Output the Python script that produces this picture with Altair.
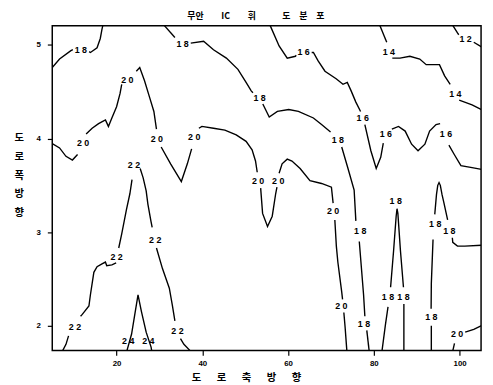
import altair as alt
import pandas as pd

# ---- contour polylines (data units), split where labels interrupt them ----
c18_west = [
    [(5.0, 4.76), (6.7, 4.85), (9.35, 4.94), (9.8, 4.95)],
    [(13.6, 4.93), (13.9, 4.92), (15.45, 4.97), (16.2, 5.07), (16.6, 5.17), (16.8, 5.21)],
]
c18_mid = [
    [(31.1, 5.21), (33.6, 5.08)],
    [(37.3, 5.02), (40.3, 5.04), (42.6, 4.95), (45.6, 4.86), (48.3, 4.74), (50.2, 4.6), (51.4, 4.51), (51.8, 4.49)],
    [(54.1, 4.37), (55.6, 4.23), (57.5, 4.29), (60.15, 4.31), (62.4, 4.29), (65.9, 4.22), (67.8, 4.15), (69.9, 4.07)],
    [(72.5, 3.91), (73.9, 3.69), (75.4, 3.45), (75.8, 3.12)],
    [(76.6, 2.9), (77.6, 2.33), (77.9, 2.1)],
    [(78.35, 1.95), (78.9, 1.73)],
]
c16 = [
    [(55.8, 5.21), (57.9, 4.99), (59.8, 4.86), (61.7, 4.88), (61.9, 4.89)],
    [(65.5, 4.92), (65.9, 4.92), (67.0, 4.83), (68.6, 4.72), (71.2, 4.64), (72.8, 4.58), (73.8, 4.6),
     (74.7, 4.51), (75.8, 4.39), (76.9, 4.29)],
    [(77.9, 4.15), (79.3, 3.87), (80.55, 3.68), (81.6, 3.8), (82.2, 3.95)],
    [(84.2, 4.1), (85.75, 4.13), (87.3, 4.08), (88.8, 3.94), (90.3, 3.87), (91.9, 3.94), (93.0, 4.08),
     (94.5, 4.15), (95.45, 4.16)],
    [(97.5, 3.93), (98.75, 3.83), (100.3, 3.71), (102.9, 3.69), (105.1, 3.67)],
]
c14 = [
    [(81.4, 5.21), (83.0, 5.03)],
    [(84.3, 4.86), (86.1, 4.86), (88.4, 4.88), (90.7, 4.85), (92.2, 4.79), (93.8, 4.79), (95.3, 4.79),
     (96.5, 4.67), (97.8, 4.58)],
    [(99.9, 4.41), (102.9, 4.36), (105.1, 4.31)],
]
c12 = [
    [(98.4, 5.21), (99.5, 5.13), (99.8, 5.11)],
    [(103.3, 5.03), (105.1, 4.98)],
]
c20_main = [
    [(4.9, 3.95), (6.7, 3.9), (8.2, 3.81), (9.7, 3.77), (10.9, 3.83)],
    [(12.9, 4.05), (14.3, 4.11), (15.8, 4.16), (17.4, 4.2), (18.1, 4.13), (18.9, 4.22), (20.0, 4.34),
     (20.8, 4.48), (21.2, 4.58)],
    [(24.6, 4.72), (25.4, 4.76), (26.5, 4.62), (27.7, 4.44), (28.7, 4.29), (29.3, 4.1)],
    [(30.4, 3.91), (32.6, 3.73), (35.1, 3.54), (36.5, 3.73), (37.5, 3.89)],
    [(39.2, 4.11), (39.9, 4.13), (42.6, 4.11), (45.25, 4.09), (47.9, 4.04), (50.2, 3.97), (51.6, 3.88),
     (52.4, 3.76), (52.8, 3.64)],
    [(53.6, 3.47), (54.05, 3.2), (55.2, 3.06), (56.3, 3.17), (57.1, 3.41), (57.4, 3.48)],
    [(57.9, 3.63), (58.6, 3.73), (59.8, 3.78), (60.9, 3.76), (62.8, 3.68), (65.1, 3.55), (67.8, 3.52),
     (70.1, 3.48), (70.5, 3.31)],
    [(70.9, 3.13), (71.25, 2.85), (71.6, 2.68), (72.5, 2.36), (72.7, 2.28)],
    [(73.0, 2.14), (73.3, 1.98), (73.7, 1.73)],
]
c22 = [
    [(7.4, 1.73), (8.2, 1.8), (8.8, 1.89)],
    [(11.6, 2.1), (12.0, 2.12), (13.55, 2.21), (13.9, 2.33), (14.7, 2.57), (15.45, 2.63), (16.6, 2.66),
     (17.4, 2.68), (17.7, 2.64), (18.9, 2.65), (19.9, 2.67)],
    [(20.5, 2.83), (21.2, 2.98), (22.3, 3.24), (23.1, 3.41), (23.6, 3.56)],
    [(25.5, 3.68), (26.2, 3.58), (26.9, 3.44), (27.3, 3.3), (28.0, 3.12), (28.3, 3.05)],
    [(29.3, 2.83), (30.7, 2.61), (32.3, 2.4), (33.0, 2.22), (33.6, 2.05)],
    [(34.9, 1.86), (35.7, 1.8), (37.2, 1.73)],
]
c24 = [
    [(22.4, 1.73), (23.5, 1.91), (24.25, 2.12), (25.0, 2.33), (25.8, 2.15), (26.9, 1.93), (28.05, 1.77),
     (28.2, 1.73)],
]
c18_peak = [
    [(81.9, 1.73), (82.7, 2.01), (83.3, 2.2)],
    [(83.9, 2.41), (84.6, 2.8), (85.2, 3.17), (85.4, 3.25), (85.6, 3.2), (86.2, 2.8), (86.9, 2.41)],
    [(87.0, 2.23), (87.0, 1.73)],
]
c18_east = [
    [(93.4, 1.73), (93.4, 2.0)],
    [(93.35, 2.18), (93.4, 2.45), (93.8, 2.92)],
    [(94.2, 3.19), (94.6, 3.4), (94.9, 3.5), (95.2, 3.53), (95.5, 3.5), (95.9, 3.4), (96.3, 3.32),
     (97.2, 3.13)],
    [(98.3, 2.94), (98.4, 2.89), (99.5, 2.85), (101.2, 2.85), (105.1, 2.86)],
]
c20_se = [
    [(98.4, 1.73), (98.8, 1.81)],
    [(101.3, 1.93), (103.3, 1.96), (105.1, 2.0)],
]

# ---- contour labels ----
label_text = ["1 8", "1 8", "1 8", "1 8", "1 8", "1 8",
              "1 6", "1 6", "1 6", "1 6",
              "1 4", "1 4", "1 2",
              "2 0", "2 0", "2 0", "2 0", "2 0", "2 0", "2 0", "2 0", "2 0",
              "2 2", "2 2", "2 2", "2 2", "2 2",
              "2 4", "2 4",
              "1 8", "1 8", "1 8", "1 8", "1 8", "1 8"]
label_x = [11.65, 35.4, 53.35, 71.6, 76.8, 77.7,
           63.6, 77.4, 82.8, 96.8,
           83.5, 99.0, 101.4,
           12.2, 22.5, 29.4, 38.1, 99.4, 53.0, 57.7, 70.5, 72.4,
           24.05, 20.0, 29.0, 10.3, 34.2,
           22.7, 27.4,
           85.1, 83.3, 86.9, 94.3, 93.4, 97.6]
label_y = [4.95, 5.01, 4.43, 3.98, 3.01, 2.02,
           4.93, 4.22, 4.05, 4.05,
           4.93, 4.48, 5.06,
           3.95, 4.63, 3.99, 4.02, 1.91, 3.55, 3.55, 3.22, 2.21,
           3.72, 2.73, 2.92, 1.99, 1.94,
           1.84, 1.84,
           3.33, 2.31, 2.31, 3.09, 2.09, 3.01]

x_ticks = [20, 40, 60, 80, 100]
y_ticks = [2, 3, 4, 5]

contours = {
    "c18_west": c18_west, "c18_mid": c18_mid, "c16": c16, "c14": c14, "c12": c12,
    "c20_main": c20_main, "c22": c22, "c24": c24, "c18_peak": c18_peak,
    "c18_east": c18_east, "c20_se": c20_se,
}
rows = []
for name, segs in contours.items():
    for si, seg in enumerate(segs):
        for pi, (x, y) in enumerate(seg):
            rows.append({"seg": f"{name}_{si}", "i": pi, "x": x, "y": y})
lines_df = pd.DataFrame(rows)
labels_df = pd.DataFrame({"t": label_text, "x": label_x, "y": label_y})

xs = alt.Scale(domain=[5, 105], nice=False, zero=False)
ys = alt.Scale(domain=[1.735, 5.205], nice=False, zero=False)

lines = alt.Chart(lines_df).mark_line(color="black", strokeWidth=1.4, clip=True).encode(
    x=alt.X("x:Q", scale=xs, axis=alt.Axis(
        values=x_ticks, format="d", title="도\u2003\u2002로\u2003\u2002축\u2003\u2002방\u2003\u2002향",
        titleX=197, titleY=31, titleBaseline="alphabetic", titleAlign="center",
        labelPadding=4, titleFontSize=10.5)),
    y=alt.Y("y:Q", scale=ys, axis=alt.Axis(
        values=y_ticks, format="d", title=["도", "로", "폭", "방", "향"],
        titleAngle=0, titleX=-34, titleY=114, titleAlign="center", titleBaseline="middle",
        titleLineHeight=19, titleFontSize=10.5, labelPadding=7)),
    detail="seg:N",
    order="i:Q",
)

texts = alt.Chart(labels_df).mark_text(
    font="Liberation Sans", fontWeight="bold", fontSize=9, color="black"
).encode(
    x=alt.X("x:Q", scale=xs),
    y=alt.Y("y:Q", scale=ys),
    text="t:N",
)

chart = alt.layer(lines, texts).properties(
    width=436,
    height=330,
    title=alt.TitleParams(
        text="무안\u2003\u2003IC\u2003\u2002\u2002휘\u2003\u2003\u2003도\u2002\u2002분\u2002\u2002포",
        font="Noto Sans CJK KR", fontSize=9, fontWeight="bold", anchor="middle",
        dx=-11, offset=5, color="black"),
    autosize=alt.AutoSizeParams(type="none"),
    padding={"left": 45, "top": 15, "right": 4, "bottom": 32},
).configure_view(
    stroke="black", strokeWidth=1.5
).configure_axis(
    domain=False, grid=False,
    tickColor="black", tickSize=5, tickWidth=1.2,
    labelFont="Liberation Sans", labelFontWeight="bold", labelFontSize=8, labelColor="black",
    titleFont="Noto Sans CJK KR", titleFontWeight="bold", titleColor="black",
)

chart.save("out.html", embed_options={"renderer": "svg", "actions": False})
